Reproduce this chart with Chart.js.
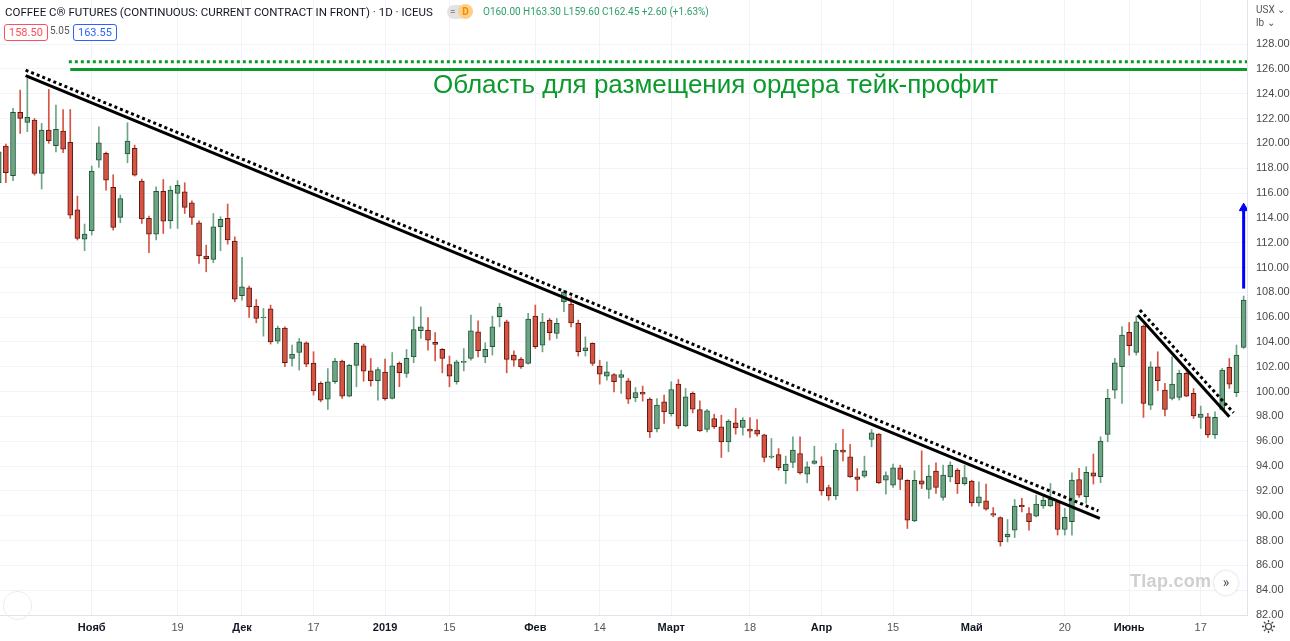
<!DOCTYPE html>
<html lang="ru">
<head>
  <meta charset="UTF-8">
  <title>Coffee C Futures</title>
  <script src="https://cdn.jsdelivr.net/npm/chart.js"></script>
  <style>
    body {
      margin: 0;
      background: #ffffff;
      font-family: Roboto, "Liberation Sans", Arial, sans-serif;
    }
    .wrap {
      position: relative;
      width: 1290px;
      height: 641px;
      overflow: hidden;
    }
    canvas { position: absolute; left: 0; top: 0; }
    .lbl { position: absolute; white-space: nowrap; }
    .title { left: 5px; top: 5px; font-size: 11.5px; color: #131722; }
    .badge-eq {
      left: 447px; top: 5px; width: 16px; height: 14px; border-radius: 7px;
      background: #e3e3e3; color: #888; font-size: 10px; text-align: left; padding-left: 3px; line-height: 14px;
    }
    .badge-d {
      left: 458px; top: 4px; width: 15px; height: 15px; border-radius: 8px;
      background: #ffcf86; color: #f08b00; font-size: 10px; text-align: center; line-height: 15px; font-weight: bold;
    }
    .ohlc { left: 483px; top: 6px; font-size: 10px; color: #2e9e6a; }
    .box {
      top: 24px; height: 15px; line-height: 15px; font-size: 11px; padding: 0 4px;
      border-radius: 3px; background: #fff;
    }
    .sell { left: 4px; border: 1px solid #f7525f; color: #f7525f; }
    .spread { left: 50px; top: 25px; font-size: 10px; color: #555; }
    .buy { left: 73px; border: 1px solid #2962ff; color: #2962ff; }
    .unit { left: 1256px; font-size: 10px; color: #555; }
    .zone { left: 433px; top: 69px; font-size: 26px; color: #0a9a2c; font-family: "Liberation Sans", Arial, sans-serif; }
    .wm { left: 1130px; top: 571px; font-size: 18px; font-weight: bold; color: #cfcfcf; font-family: "Liberation Sans", Arial, sans-serif; letter-spacing: 0.3px; }
    .more {
      left: 1214px; top: 571px; width: 24px; height: 24px; border-radius: 12px;
      background: #fff; box-shadow: 0 0 3px rgba(0,0,0,0.2); color: #555; font-size: 14px;
      text-align: center; line-height: 22px;
    }
    .logo {
      left: 3px; top: 591px; width: 27px; height: 27px; border-radius: 14px;
      border: 1px solid #ececec;
    }
    .gear { left: 1261px; top: 619px; }
  </style>
</head>
<body>
  <div class="wrap">
    <canvas id="chart" width="1290" height="641"></canvas>
    <div class="lbl title">COFFEE C® FUTURES (CONTINUOUS: CURRENT CONTRACT IN FRONT) · 1D · ICEUS</div>
    <div class="lbl badge-eq">=</div>
    <div class="lbl badge-d">D</div>
    <div class="lbl ohlc">O160.00 H163.30 L159.60 C162.45 +2.60 (+1.63%)</div>
    <div class="lbl box sell">158.50</div>
    <div class="lbl spread">5.05</div>
    <div class="lbl box buy">163.55</div>
    <div class="lbl unit" style="top:4px">USX ⌄</div>
    <div class="lbl unit" style="top:17px">lb ⌄</div>
    <div class="lbl zone">Область для размещения ордера тейк-профит</div>
    <div class="lbl wm">Tlap.com</div>
    <div class="lbl more">»</div>
    <div class="lbl logo"></div>
    <svg class="lbl gear" width="15" height="15" viewBox="0 0 15 15">
      <circle cx="7.5" cy="7.5" r="3" fill="none" stroke="#444" stroke-width="1.2"/>
      <path d="M7.5 1v2.2M7.5 11.8V14M1 7.5h2.2M11.8 7.5H14M2.9 2.9l1.6 1.6M10.5 10.5l1.6 1.6M2.9 12.1l1.6-1.6M10.5 4.5l1.6-1.6" stroke="#444" stroke-width="1.3"/>
    </svg>
  </div>

  <script>
    // daily candles, 24 Oct 2018 .. 25 Jun 2019 (index = trading day)
    const opens = [
      116.83, 119.78, 117.39, 122.49, 121.69, 121.88, 117.58, 121.07, 119.81, 120.99,
      120.08, 114.65, 112.29, 112.96, 118.65, 119.19, 116.45, 114.03, 119.14, 119.59,
      116.96, 113.95, 112.69, 116.13, 113.77, 115.97, 116.10, 115.21, 113.60, 110.92,
      110.65, 113.28, 113.95, 112.13, 107.72, 108.36, 106.89, 105.93, 106.67, 104.07,
      105.11, 102.67, 103.15, 103.93, 102.29, 100.66, 99.39, 100.79, 102.46, 99.63,
      102.10, 103.69, 101.68, 100.87, 101.57, 99.45, 102.27, 101.46, 102.80, 104.90,
      104.95, 103.96, 103.40, 102.18, 100.79, 102.35, 102.67, 104.82, 102.80, 103.61,
      106.03, 105.62, 102.94, 102.61, 102.27, 106.08, 103.74, 105.76, 104.68, 107.23,
      107.05, 105.49, 103.29, 103.88, 102.05, 101.24, 101.38, 101.14, 100.87, 99.50,
      99.95, 99.39, 97.00, 99.17, 98.23, 100.60, 97.24, 99.85, 98.56, 96.95,
      97.83, 97.16, 95.95, 97.48, 97.11, 96.97, 96.89, 96.52, 94.72, 94.93,
      93.62, 94.29, 95.01, 93.35, 94.21, 93.99, 92.27, 91.60, 95.28, 94.74,
      93.13, 93.19, 96.14, 96.57, 92.86, 92.46, 93.86, 92.86, 89.59, 92.81,
      92.11, 93.59, 91.47, 93.13, 93.67, 92.59, 92.78, 91.04, 91.20, 90.18,
      89.85, 88.30, 88.83, 90.85, 90.18, 89.96, 90.78, 90.78, 91.12, 88.89,
      89.51, 92.92, 91.53, 93.46, 93.14, 96.55, 100.12, 102.00, 104.77, 103.16,
      105.28, 98.91, 102.00, 100.12, 99.45, 99.53, 101.47, 99.85, 97.92, 97.97,
      96.50, 98.56, 101.95, 99.91, 103.56
    ];
    const highs = [
      119.80, 119.94, 122.82, 124.29, 125.23, 122.01, 121.61, 124.35, 123.08, 122.73,
      122.73, 115.75, 113.50, 118.17, 121.34, 119.30, 117.47, 115.83, 121.66, 119.86,
      117.12, 114.14, 116.50, 117.09, 116.56, 116.99, 116.83, 115.37, 113.76, 111.80,
      114.35, 114.09, 115.11, 112.47, 110.81, 108.50, 107.42, 106.70, 106.97, 105.28,
      105.22, 103.74, 104.28, 104.01, 103.21, 100.79, 101.86, 102.67, 102.54, 102.20,
      103.93, 103.83, 102.67, 101.94, 102.62, 103.15, 102.40, 103.40, 106.03, 106.83,
      105.97, 104.76, 103.47, 102.86, 102.53, 103.47, 106.16, 105.70, 103.93, 106.08,
      107.10, 105.76, 103.29, 102.75, 106.30, 106.97, 106.30, 105.89, 105.89, 108.17,
      107.64, 105.76, 104.41, 103.93, 102.53, 102.40, 101.46, 101.73, 101.06, 100.33,
      100.44, 99.50, 99.44, 99.71, 100.79, 100.98, 100.25, 99.98, 99.26, 98.58,
      98.18, 98.10, 97.75, 98.64, 97.91, 97.91, 97.75, 96.57, 96.22, 95.41,
      94.80, 96.35, 96.35, 94.34, 95.60, 94.75, 92.46, 95.82, 96.95, 95.76,
      93.80, 94.80, 96.95, 96.62, 93.53, 94.15, 94.07, 92.90, 93.62, 95.23,
      94.07, 94.26, 94.07, 94.34, 93.80, 94.07, 92.86, 92.73, 92.54, 90.66,
      89.91, 89.69, 91.31, 91.39, 90.66, 91.66, 91.66, 92.60, 91.20, 90.59,
      93.46, 93.81, 93.94, 94.97, 96.36, 100.18, 102.67, 105.23, 105.55, 106.08,
      105.36, 102.40, 103.21, 100.66, 102.81, 101.73, 101.60, 100.25, 98.83, 98.24,
      98.37, 101.87, 102.67, 103.75, 107.70
    ];
    const lows = [
      116.50, 116.83, 116.99, 120.80, 120.94, 117.44, 116.32, 120.00, 119.32, 119.24,
      113.95, 112.21, 111.35, 112.61, 118.06, 116.23, 113.01, 113.60, 118.44, 117.36,
      113.55, 111.19, 112.21, 112.74, 113.15, 113.15, 114.35, 113.47, 110.33, 109.65,
      110.38, 111.35, 111.88, 107.24, 107.37, 105.97, 105.54, 104.47, 103.83, 103.88,
      102.00, 102.05, 101.73, 102.00, 99.72, 99.18, 98.56, 100.66, 99.45, 99.58,
      100.39, 100.84, 100.44, 99.31, 99.31, 99.40, 100.39, 101.14, 102.32, 104.28,
      103.34, 102.48, 101.51, 100.39, 100.60, 101.67, 102.53, 102.80, 102.32, 102.94,
      105.22, 101.51, 102.05, 101.86, 102.21, 103.47, 103.20, 104.15, 104.28, 106.43,
      105.22, 102.86, 102.86, 102.10, 100.60, 100.92, 99.98, 99.85, 99.04, 99.18,
      99.23, 96.30, 96.76, 97.43, 98.02, 97.03, 97.16, 98.29, 96.80, 96.76,
      97.03, 94.69, 95.15, 96.57, 96.49, 96.30, 96.41, 94.34, 94.61, 93.67,
      92.59, 93.88, 93.35, 92.65, 94.15, 91.65, 91.25, 91.31, 94.42, 93.08,
      92.00, 93.08, 95.55, 92.59, 91.74, 92.27, 92.11, 88.97, 89.51, 92.19,
      91.39, 91.79, 91.25, 92.73, 91.79, 92.46, 90.77, 90.77, 90.45, 89.91,
      87.55, 87.89, 88.24, 90.31, 88.83, 89.91, 90.59, 90.72, 88.44, 88.44,
      88.44, 91.47, 91.00, 92.55, 92.66, 95.96, 99.45, 99.05, 102.94, 102.94,
      97.92, 98.56, 100.07, 98.03, 99.32, 99.32, 99.59, 97.84, 97.03, 96.31,
      96.23, 98.51, 100.26, 99.59, 103.48
    ];
    const closes = [
      119.32, 117.63, 122.49, 122.01, 122.09, 117.58, 121.07, 120.21, 121.12, 119.54,
      114.22, 112.34, 112.69, 117.77, 120.05, 117.04, 113.23, 115.56, 120.18, 117.44,
      113.92, 112.69, 116.13, 113.74, 116.23, 116.61, 114.84, 114.03, 110.94, 110.70,
      113.28, 113.87, 112.21, 107.45, 108.44, 106.83, 105.89, 105.97, 104.01, 105.11,
      102.32, 103.02, 104.01, 102.21, 100.06, 99.31, 100.79, 102.46, 99.63, 102.13,
      103.88, 101.65, 100.87, 101.78, 99.42, 102.08, 101.52, 102.67, 105.00, 105.22,
      104.15, 103.80, 102.67, 101.24, 102.40, 102.40, 104.90, 103.29, 103.40, 105.22,
      106.78, 102.59, 102.53, 101.99, 105.84, 103.61, 105.60, 104.74, 105.49, 108.04,
      105.54, 103.21, 103.53, 102.27, 101.40, 101.59, 100.79, 101.38, 99.39, 99.93,
      99.79, 96.76, 98.91, 98.37, 100.17, 97.24, 99.58, 98.58, 96.84, 98.45,
      97.16, 95.95, 97.62, 97.08, 97.70, 96.81, 96.57, 94.69, 94.80, 93.88,
      94.15, 95.28, 93.45, 93.94, 94.42, 92.00, 91.60, 95.28, 95.12, 93.13,
      92.92, 93.62, 96.68, 92.65, 93.24, 93.86, 92.92, 89.64, 92.86, 92.54,
      93.19, 92.27, 93.27, 94.07, 92.59, 93.08, 91.04, 91.52, 90.53, 90.04,
      87.89, 88.51, 90.77, 90.72, 89.51, 90.93, 91.26, 91.31, 88.89, 89.86,
      92.87, 91.66, 93.49, 93.19, 96.01, 99.45, 102.32, 104.55, 103.70, 105.63,
      99.05, 102.00, 100.87, 98.56, 100.60, 101.47, 99.64, 98.03, 98.18, 96.50,
      97.92, 101.73, 100.60, 102.94, 107.37
    ];

    // time axis labels and the candle index they sit on
    const tickIdx = [13, 25, 34, 44, 54, 63, 75, 84, 94, 105, 115, 125, 136, 149, 158, 168];
    const tickText = ['Нояб', '19', 'Дек', '17', '2019', '15', 'Фев', '14', 'Март', '18', 'Апр', '15', 'Май', '20', 'Июнь', '17'];
    const monthTicks = ['Нояб', 'Дек', '2019', 'Фев', 'Март', 'Апр', 'Май', 'Июнь'];

    // price axis labels
    const priceTicks = [82, 84, 86, 88, 90, 92, 94, 96, 98, 100, 102, 104, 106, 108, 110, 112, 114, 116, 118, 120, 122, 124, 126, 128];

    // drawn trend lines: [index, price] end points
    const trendMain = [[3.76, 125.45], [153.9, 89.78]];
    const trendMainDots = [[3.76, 125.9], [153.7, 90.39]];
    const trendShort = [[159.2, 106.16], [172.0, 97.97]];
    const trendShortDots = [[159.5, 106.57], [172.6, 98.29]];
    const takeProfit = [[10.0, 125.96], [176, 125.96]];
    const takeProfitDots = [[9.8, 126.57], [176, 126.57]];
    const arrowUp = [[174, 108.3], [174, 114.78]];

    const upFill = '#6ba583', downFill = '#d75442';
    const upLine = '#225437', downLine = '#5b1a13';

    const idx = opens.map((_, i) => i);
    const isUp = idx.map(i => closes[i] >= opens[i]);

    const bodies = idx.map(i => ({ x: i, y: [opens[i], closes[i]] }));
    const wicks = idx.map(i => ({ x: i, y: [lows[i], highs[i]] }));

    const pts = arr => arr.map(p => ({ x: p[0], y: p[1] }));
    const lineSet = (arr, color, dash, width) => ({
      type: 'line',
      data: pts(arr),
      borderColor: color,
      borderWidth: width,
      borderDash: dash,
      borderCapStyle: 'butt',
      pointRadius: 0,
      order: -1
    });

    const arrowSet = {
      type: 'line',
      data: pts(arrowUp),
      borderColor: '#0000ff',
      backgroundColor: '#0000ff',
      borderWidth: 3,
      pointStyle: 'triangle',
      pointRadius: [0, 5],
      pointBorderWidth: 1,
      order: -2
    };

    // no extra room for half tick labels: chart area runs edge to edge
    const noPad = s => {
      s.paddingTop = 0; s.paddingBottom = 0;
      s.paddingLeft = 0; s.paddingRight = 0;
    };

    new Chart(document.getElementById('chart'), {
      type: 'bar',
      data: {
        datasets: [
          {
            data: bodies,
            backgroundColor: idx.map(i => isUp[i] ? upFill : downFill),
            borderColor: idx.map(i => isUp[i] ? upLine : downLine),
            borderWidth: 1,
            borderSkipped: false,
            barThickness: 5,
            minBarLength: 1,
            grouped: false,
            order: 0
          },
          {
            data: wicks,
            backgroundColor: idx.map(i => isUp[i] ? upFill : downFill),
            barThickness: 1,
            grouped: false,
            order: 1
          },
          lineSet(trendMain, '#000000', [], 3),
          lineSet(trendMainDots, '#000000', [3, 3], 3),
          lineSet(trendShort, '#000000', [], 3),
          lineSet(trendShortDots, '#000000', [3, 3], 3),
          lineSet(takeProfit, '#0a9a2c', [], 3),
          lineSet(takeProfitDots, '#0a9a2c', [3, 3], 3),
          arrowSet
        ]
      },
      options: {
        responsive: false,
        animation: false,
        events: [],
        layout: { padding: 0, autoPadding: false },
        plugins: {
          legend: { display: false },
          tooltip: { enabled: false }
        },
        scales: {
          x: {
            type: 'linear',
            min: 0.18,
            max: 174.47,
            offset: false,
            grid: { color: '#f0f3fa', offset: false, drawTicks: false },
            border: { display: true, color: '#e0e3eb' },
            afterBuildTicks: s => { s.ticks = tickIdx.map(v => ({ value: v })); },
            afterFit: s => { s.height = 26; noPad(s); },
            ticks: {
              autoSkip: false,
              maxRotation: 0,
              padding: 6,
              callback: v => tickText[tickIdx.indexOf(v)],
              color: ctx => monthTicks.includes(tickText[ctx.index]) ? '#131722' : '#555',
              font: ctx => ({ size: 11, weight: monthTicks.includes(tickText[ctx.index]) ? 'bold' : 'normal' })
            }
          },
          y: {
            position: 'right',
            min: 82,
            max: 131.55,
            grid: { color: '#f0f3fa', drawTicks: false },
            border: { display: true, color: '#e0e3eb' },
            afterBuildTicks: s => { s.ticks = priceTicks.map(v => ({ value: v })); },
            afterFit: s => { s.width = 43; noPad(s); },
            ticks: {
              padding: 9,
              color: '#4a4a4a',
              font: { size: 11 },
              callback: v => v.toFixed(2)
            }
          }
        }
      }
    });
  </script>
</body>
</html>
